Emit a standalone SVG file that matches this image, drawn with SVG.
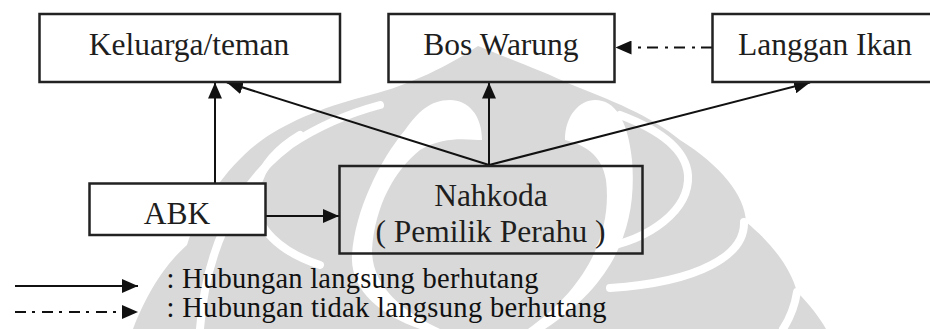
<svg xmlns="http://www.w3.org/2000/svg" width="930" height="329" viewBox="0 0 930 329">
  <style>
    .box { stroke: #222; stroke-width: 2.5; }
    .filled { fill: #ffffff; }
    .open { fill: none; }
    .label { font-size: 31.5px; fill: #1e1e1e; }
    .legend { font-size: 28.5px; fill: #111; }
    .line { stroke: #111; stroke-width: 2; fill: none; }
    .dashdot { stroke-dasharray: 11 6 3 7; }
    .wm { fill: #d9d9d9; }
    .gap { fill: none; stroke: #ffffff; stroke-width: 8; stroke-linecap: round; }
    .gapfill { fill: #ffffff; }
  </style>
  <defs>
    <marker id="arrow" markerUnits="userSpaceOnUse" markerWidth="16" markerHeight="14" refX="16" refY="7" orient="auto">
      <path d="M0,0 L16,7 L0,14 Z" fill="#111"/>
    </marker>
  </defs>

  <rect width="930" height="329" fill="#ffffff"/>

  <!-- faint background emblem -->
  <g id="watermark">
    <path class="wm" d="M 478 46
      C 500 55 545 72 570 84
      C 610 100 650 115 680 140
      C 720 165 745 195 746 222
      C 768 240 790 265 797 292
      C 810 305 820 318 826 329
      L 133 329
      C 150 285 170 260 187 245
      C 200 205 228 165 262 140
      C 290 120 330 105 370 95
      C 410 85 450 65 478 46 Z"/>
    <!-- white separations between the leaves -->
    <path class="gapfill" d="M 565 140 C 565 115 580 100 595 100 C 615 100 628 120 632 160 C 637 220 620 280 545 329 L 528 329 C 590 285 612 230 606 180 C 602 155 585 145 565 140 Z"/>
    <path class="gapfill" d="M 482 140 C 482 115 468 100 450 100 C 430 100 418 112 405 130 C 380 160 355 210 352 255 C 350 290 380 315 420 329 L 440 329 C 400 310 372 285 372 250 C 375 205 395 170 420 150 C 445 135 470 140 482 140 Z"/>
    <path class="gap" d="M 600 248 C 650 240 690 210 688 175 C 686 150 660 130 620 115"/>
    <path class="gap" d="M 610 288 C 700 282 745 255 744 222"/>
    <path class="gap" d="M 797 292 C 795 305 790 318 783 329"/>
    <path class="gap" d="M 200 329 C 205 260 230 190 290 145 C 320 125 350 113 380 105"/>
    <path class="gap" d="M 320 265 C 280 252 255 228 255 200 C 256 170 275 150 300 135"/>
  </g>

  <g id="connectors">
    <path class="line" d="M 215 183 L 215 82.5" marker-end="url(#arrow)"/>
    <path class="line" d="M 266 216 L 339 216" marker-end="url(#arrow)"/>
    <path class="line" d="M 489 165 L 227 82.5" marker-end="url(#arrow)"/>
    <path class="line" d="M 489 165 L 489 82.5" marker-end="url(#arrow)"/>
    <path class="line" d="M 489 165 L 810 82.5" marker-end="url(#arrow)"/>
    <path class="line dashdot" d="M 712 47.5 L 615.5 47.5" marker-end="url(#arrow)"/>
  </g>

  <g font-family="Liberation Serif, serif">
    <g id="keluarga">
      <rect class="box filled" x="39.5" y="14" width="300.5" height="68"/>
      <text class="label" x="189" y="54.5" text-anchor="middle">Keluarga/teman</text>
    </g>
    <g id="bos-warung">
      <rect class="box open" x="388.5" y="14" width="226" height="68"/>
      <text class="label" x="501" y="54.5" text-anchor="middle">Bos Warung</text>
    </g>
    <g id="langgan-ikan">
      <rect class="box filled" x="712.5" y="14" width="230" height="68"/>
      <text class="label" x="738" y="54.5">Langgan Ikan</text>
    </g>
    <g id="abk">
      <rect class="box filled" x="89.5" y="183.5" width="176" height="51.5"/>
      <text class="label" x="177" y="223.5" text-anchor="middle">ABK</text>
    </g>
    <g id="nahkoda">
      <rect class="box open" x="339.5" y="166" width="303" height="87.5"/>
      <text class="label" x="491" y="206" text-anchor="middle">Nahkoda</text>
      <text class="label" x="490.5" y="241.5" text-anchor="middle">( Pemilik Perahu )</text>
    </g>

    <g id="legend">
      <path class="line" d="M 15 286 L 138 286" marker-end="url(#arrow)"/>
      <path class="line dashdot" d="M 15 312 L 138 312" marker-end="url(#arrow)"/>
      <text class="legend" x="166.5" y="287.5" textLength="372">: Hubungan langsung berhutang</text>
      <text class="legend" x="166.5" y="317" textLength="440">: Hubungan tidak langsung berhutang</text>
    </g>
  </g>
</svg>
